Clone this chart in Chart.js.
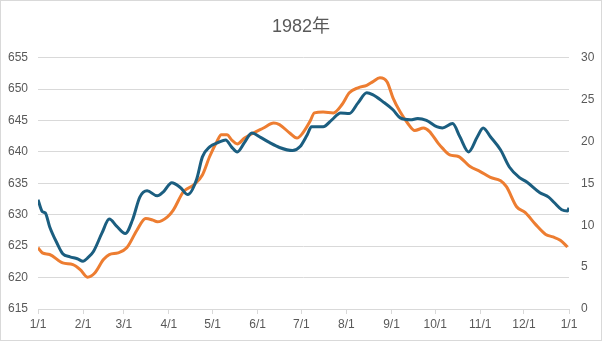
<!DOCTYPE html>
<html lang="ja">
<head>
    <meta charset="UTF-8">
    <title>1982年</title>
    <script src="https://cdn.jsdelivr.net/npm/chart.js"></script>
    <style>
        body {
            margin: 0;
            padding: 0;
            background: #ffffff;
        }
        #box {
            position: absolute;
            left: 0;
            top: 0;
            width: 602px;
            height: 341px;
            box-sizing: border-box;
            border: 1px solid #d9d9d9;
        }
    </style>
</head>
<body>
    <div id="box">
        <canvas id="line-chart" width="600" height="339"></canvas>
    </div>

    <script>
        // day of year (0 = 1/1) and values
        const blueDays = [0, 3, 5, 8, 13, 17, 22, 27, 31, 34, 38, 44, 49, 54, 60, 65, 70, 75, 82, 86,
            92, 98, 103, 109, 113, 118, 124, 129, 133, 137, 142, 147, 153, 159, 166, 175, 180, 185, 188, 196,
            202, 208, 214, 220, 226, 230, 237, 244, 249, 256, 261, 267, 274, 278, 285, 290, 296, 302, 306, 311,
            318, 324, 331, 336, 345, 351, 355, 360, 364, 365];
        const blueValues = [632.4, 630.5, 630.3, 628.1, 625.5, 623.8, 623.3, 623.0, 622.6, 623.1, 624.1, 627.1, 629.3, 628.2, 627.0, 629.2, 632.8, 633.8, 633.0, 633.6,
            635.1, 634.3, 633.2, 635.6, 639.2, 640.8, 641.5, 641.9, 640.8, 640.0, 641.5, 643.0, 642.3, 641.5, 640.7, 640.2, 640.8, 642.7, 644.0, 644.0,
            645.1, 646.2, 646.1, 647.8, 649.4, 649.1, 648.0, 646.7, 645.4, 645.1, 645.3, 645.0, 644.0, 643.8, 644.5, 642.4, 640.0, 642.4, 643.8, 642.4,
            640.3, 637.6, 635.9, 635.2, 633.5, 632.8, 631.9, 630.8, 630.6, 631.1];

        const orangeDays = [0, 3, 8, 17, 24, 29, 34, 39, 45, 49, 55, 61, 68, 74, 79, 82, 89, 93, 100, 107,
            113, 118, 123, 126, 130, 133, 137, 142, 148, 155, 162, 166, 173, 178, 182, 187, 190, 196, 203, 209,
            214, 220, 226, 230, 235, 240, 244, 249, 254, 259, 265, 269, 275, 278, 283, 289, 297, 304, 311, 318,
            322, 329, 335, 342, 349, 354, 359, 364];
        const orangeValues = [7.3, 6.7, 6.5, 5.5, 5.3, 4.7, 3.8, 4.3, 5.9, 6.5, 6.7, 7.3, 9.4, 10.8, 10.6, 10.4, 11.0, 11.8, 14.0, 14.8,
            16.0, 18.2, 20.0, 20.8, 20.8, 20.2, 19.7, 20.4, 21.0, 21.6, 22.2, 22.0, 21.0, 20.4, 21.0, 22.4, 23.4, 23.5, 23.4, 24.4,
            25.8, 26.4, 26.7, 27.1, 27.6, 27.1, 25.2, 23.5, 22.2, 21.3, 21.6, 21.2, 19.8, 19.2, 18.4, 18.2, 17.0, 16.4, 15.7, 15.3,
            14.6, 12.2, 11.5, 10.1, 8.9, 8.6, 8.2, 7.4];

        // month starts for the x axis
        const monthDays = [0, 31, 59, 90, 120, 151, 181, 212, 243, 273, 304, 334, 365];
        const monthLabels = ["1/1", "2/1", "3/1", "4/1", "5/1", "6/1", "7/1", "8/1", "9/1", "10/1", "11/1", "12/1", "1/1"];

        const textColor = "#595959";
        const gridColor = "#d9d9d9";
        const fontFamily = "'Liberation Sans', 'Noto Sans CJK JP', sans-serif";

        const ctx = document.getElementById("line-chart").getContext("2d");
        new Chart(ctx, {
            type: "line",
            data: {
                datasets: [{
                    label: "blue",
                    data: blueDays.map((d, i) => ({ x: d, y: blueValues[i] })),
                    borderColor: "#1b5e80",
                    borderWidth: 3,
                    pointRadius: 0,
                    tension: 0.4,
                    cubicInterpolationMode: "monotone",
                    yAxisID: "y"
                }, {
                    label: "orange",
                    data: orangeDays.map((d, i) => ({ x: d, y: orangeValues[i] })),
                    borderColor: "#ed7d31",
                    borderWidth: 3,
                    pointRadius: 0,
                    tension: 0.4,
                    cubicInterpolationMode: "monotone",
                    yAxisID: "y2"
                }]
            },
            options: {
                responsive: false,
                animation: false,
                layout: { padding: { left: 0, right: 0, top: 0, bottom: 0 } },
                plugins: {
                    legend: { display: false },
                    tooltip: { enabled: false },
                    title: {
                        display: true,
                        text: "1982年",
                        color: textColor,
                        font: { family: fontFamily, size: 18, weight: "normal" },
                        padding: { top: 15, bottom: 20 }
                    }
                },
                scales: {
                    x: {
                        type: "linear",
                        min: 0,
                        max: 365,
                        afterBuildTicks: axis => {
                            axis.ticks = monthDays.map(v => ({ value: v }));
                        },
                        afterFit: axis => { axis.height = 31; },
                        ticks: {
                            color: textColor,
                            font: { family: fontFamily, size: 12 },
                            maxRotation: 0,
                            autoSkip: false,
                            padding: 3,
                            callback: value => monthLabels[monthDays.indexOf(value)]
                        },
                        grid: {
                            drawOnChartArea: false,
                            drawTicks: true,
                            tickLength: 5,
                            color: gridColor
                        },
                        border: { color: gridColor }
                    },
                    y: {
                        position: "left",
                        min: 615,
                        max: 655,
                        afterFit: axis => { axis.width = 37; },
                        ticks: {
                            stepSize: 5,
                            color: textColor,
                            font: { family: fontFamily, size: 12 },
                            padding: 10
                        },
                        grid: { color: gridColor, drawTicks: false },
                        border: { display: false }
                    },
                    y2: {
                        position: "right",
                        min: 0,
                        max: 30,
                        afterFit: axis => { axis.width = 32; },
                        ticks: {
                            stepSize: 5,
                            color: textColor,
                            font: { family: fontFamily, size: 12 },
                            padding: 12
                        },
                        grid: { display: false, drawTicks: false },
                        border: { display: false }
                    }
                }
            }
        });
    </script>
</body>
</html>
